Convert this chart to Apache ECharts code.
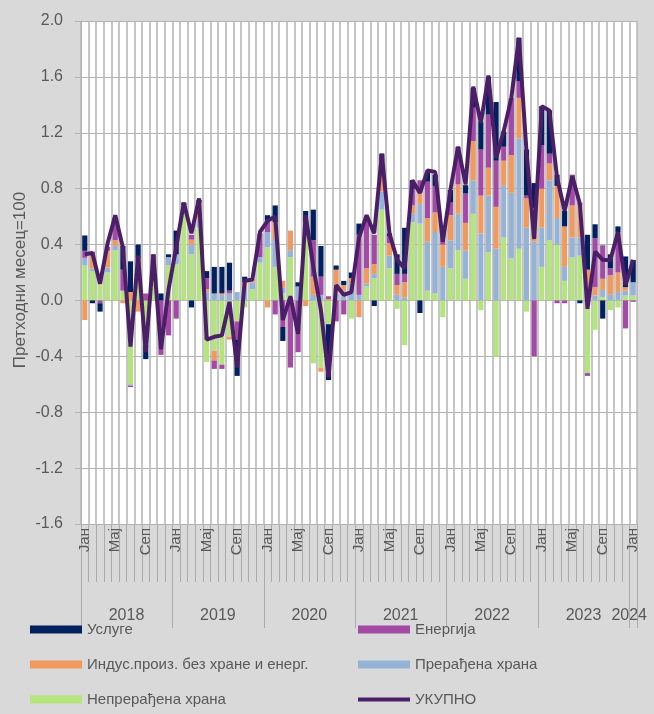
<!DOCTYPE html>
<html>
<head>
<meta charset="utf-8">
<script src="https://cdn.jsdelivr.net/npm/echarts@6/dist/echarts.min.js"></script>
<style>
  html, body { margin: 0; padding: 0; background: #d9d9d9; }
  #container { width: 654px; height: 714px; }
</style>
</head>
<body>
<div id="container"></div>
<script>
var years = ['2018', '2019', '2020', '2021', '2022', '2023', '2024'];
var monthNames = ['Јан', 'Феб', 'Мар', 'Апр', 'Мај', 'Јун', 'Јул', 'Авг', 'Сеп', 'Окт', 'Нов', 'Дец'];
var shownMonths = ['Јан', 'Мај', 'Сеп'];

// Непрерађена храна
var unprocessedFood = [
  0.25, 0.21, 0.15, 0.20, 0.36, 0.07, -0.60, 0.22, -0.24, 0.15, 0.00, 0.25,
  0.26, 0.62, 0.33, 0.52, -0.44, -0.36, -0.46, -0.26, -0.15, -0.05, 0.08, 0.27,
  0.38, 0.24, 0.05, 0.31, 0.00, 0.45, -0.45, -0.48, -0.17, 0.00, 0.00, -0.13,
  0.00, 0.10, 0.16, 0.65, 0.23, -0.06, -0.32, 0.56, 0.55, 0.07, 0.05, -0.12,
  0.23, 0.36, 0.155, 0.62, -0.07, 0.345, -0.40, 0.45, 0.30, 0.37, -0.08, 0.00,
  0.24, 0.43, 0.40, 0.14, 0.31, 0.32, -0.52, -0.21, 0.025, -0.07, -0.05, 0.035,
  0.035
];
// Прерађена храна
var processedFood = [
  0.055, 0.02, 0.02, 0.035, 0.03, 0.00, -0.01, 0.03, -0.08, 0.03, 0.00, 0.06,
  0.07, 0.04, 0.07, 0.05, 0.06, 0.05, 0.04, 0.05, 0.06, 0.10, 0.05, 0.04,
  0.11, 0.20, 0.04, 0.05, 0.10, 0.06, 0.04, 0.04, 0.00, 0.05, 0.07, 0.12,
  0.04, 0.02, 0.03, 0.13, 0.09, 0.04, 0.02, 0.06, 0.14, 0.35, 0.44, 0.24,
  0.20, 0.26, 0.20, 0.24, 0.48, 0.405, 0.37, 0.37, 0.47, 0.79, 0.52, 0.42,
  0.28, 0.43, 0.19, 0.10, 0.14, 0.13, 0.04, 0.035, 0.05, 0.04, 0.06, 0.035,
  0.095
];
// Индус.произ. без хране и енерг.
var industrial = [
  -0.14, 0.11, 0.02, 0.12, 0.04, -0.02, 0.06, -0.08, 0.00, 0.05, 0.00, 0.00,
  0.00, 0.02, 0.035, 0.13, 0.02, -0.07, 0.01, -0.02, 0.00, 0.03, 0.02, 0.00,
  -0.05, 0.12, 0.05, 0.14, 0.00, -0.04, 0.13, -0.03, 0.01, 0.17, 0.04, 0.04,
  -0.12, 0.11, 0.07, 0.12, 0.09, 0.07, 0.11, 0.06, 0.08, 0.17, 0.14, 0.16,
  0.18, 0.21, 0.20, 0.28, 0.27, 0.20, 0.30, 0.18, 0.27, 0.29, 0.21, 0.24,
  0.28, 0.12, 0.23, 0.29, 0.23, 0.23, 0.18, 0.06, 0.08, 0.14, 0.14, 0.025,
  0.00
];
// Енергија
var energy = [
  0.05, 0.01, -0.02, 0.03, 0.14, 0.15, -0.01, 0.05, 0.05, 0.10, -0.39, -0.25,
  -0.13, 0.00, 0.035, 0.00, 0.08, -0.06, -0.03, 0.02, -0.13, 0.00, 0.00, 0.17,
  0.08, -0.10, -0.19, -0.48, -0.37, 0.05, 0.26, 0.13, 0.02, -0.15, -0.10, 0.00,
  0.43, 0.37, 0.21, 0.10, 0.05, 0.08, 0.06, 0.12, 0.09, 0.26, 0.19, 0.10,
  0.09, 0.27, 0.21, 0.24, 0.33, 0.38, 0.33, 0.10, 0.41, 0.12, 0.02, -0.40,
  0.31, 0.07, -0.02, -0.02, 0.22, 0.02, -0.02, 0.35, 0.24, 0.05, 0.29, -0.20,
  -0.01
];
// Услуге
var services = [
  0.11, -0.02, -0.06, 0.00, 0.02, 0.17, 0.22, 0.10, -0.10, 0.00, 0.05, 0.02,
  0.17, 0.02, -0.05, 0.02, 0.05, 0.19, 0.19, 0.20, -0.26, 0.04, 0.00, 0.00,
  0.04, 0.12, -0.10, 0.00, 0.03, 0.08, 0.22, 0.22, -0.40, 0.03, 0.03, 0.04,
  0.08, 0.00, -0.04, 0.05, 0.02, 0.14, 0.33, 0.06, -0.09, 0.07, 0.08, 0.02,
  0.09, 0.00, 0.06, 0.14, 0.20, 0.27, 0.42, 0.11, 0.00, 0.31, 0.33, 0.18,
  0.28, 0.31, 0.08, 0.11, 0.00, -0.02, 0.25, 0.10, -0.13, 0.10, 0.04, 0.22,
  0.16
];
// УКУПНО
var total = [
  0.33, 0.34, 0.12, 0.41, 0.61, 0.38, -0.33, 0.32, -0.37, 0.33, -0.35, 0.08,
  0.38, 0.70, 0.48, 0.73, -0.28, -0.26, -0.25, -0.01, -0.48, 0.14, 0.15, 0.49,
  0.57, 0.60, -0.14, 0.03, -0.24, 0.61, 0.24, -0.07, -0.55, 0.11, 0.04, 0.06,
  0.45, 0.61, 0.48, 1.05, 0.48, 0.29, 0.23, 0.86, 0.77, 0.93, 0.92, 0.42,
  0.79, 1.10, 0.83, 1.53, 1.27, 1.61, 1.02, 1.21, 1.45, 1.88, 1.06, 0.44,
  1.39, 1.36, 0.88, 0.64, 0.89, 0.69, -0.06, 0.35, 0.29, 0.29, 0.49, 0.11,
  0.29
];

var categories = [];
years.forEach(function (y) {
  monthNames.forEach(function (m) {
    if (categories.length < total.length) categories.push(m + ' ' + y);
  });
});

var font = 'Liberation Sans';
var textColor = '#595959';
var gridColor = '#b3b3b3';
var tickColor = '#ababab';

var dom = document.getElementById('container');
var myChart = echarts.init(dom, null, { renderer: 'canvas' });

function bar(name, data, color) {
  return {
    name: name,
    type: 'bar',
    stack: 'total',
    data: data,
    barWidth: '68%',
    itemStyle: { color: color },
    emphasis: { disabled: true }
  };
}

// helper axes that only draw the month / year separator lines under the plot
function tickAxis(gridIndex, interval) {
  return {
    type: 'category',
    gridIndex: gridIndex,
    data: categories,
    boundaryGap: true,
    axisLine: { show: false },
    axisTick: { show: false },
    axisLabel: { show: false },
    splitLine: { show: true, interval: interval, lineStyle: { color: tickColor, width: 1 } }
  };
}

var legendBase = {
  top: 622, orient: 'vertical', itemGap: 20, padding: 0,
  itemWidth: 52, itemHeight: 8,
  textStyle: { fontSize: 15, color: textColor, fontFamily: font }
};

var option = {
  backgroundColor: '#d9d9d9',
  animation: false,
  textStyle: { fontFamily: font },
  grid: [
    { left: 81, right: 17, top: 21, bottom: 190, show: true, backgroundColor: '#ffffff', borderWidth: 0 },
    { left: 81, right: 17, top: 524, height: 58 },
    { left: 81, right: 17, top: 524, height: 104 }
  ],
  legend: [
    Object.assign({}, legendBase, {
      left: 30,
      data: [
        { name: 'Услуге', icon: 'rect' },
        { name: 'Индус.произ. без хране и енерг.', icon: 'rect' },
        { name: 'Непрерађена храна', icon: 'rect' }
      ]
    }),
    Object.assign({}, legendBase, {
      left: 356,
      data: [
        { name: 'Енергија', icon: 'rect' },
        { name: 'Прерађена храна', icon: 'rect' },
        { name: 'УКУПНО', itemStyle: { opacity: 0 }, lineStyle: { width: 4, color: '#4b1f68' } }
      ]
    })
  ],
  xAxis: [
    {
      type: 'category',
      data: categories,
      boundaryGap: true,
      axisLine: { onZero: false, lineStyle: { color: gridColor } },
      axisTick: { show: false },
      axisLabel: {
        interval: 0, rotate: 90, margin: 4, fontSize: 15, color: textColor,
        formatter: function (v) {
          var m = v.split(' ')[0];
          return shownMonths.indexOf(m) >= 0 ? m : '';
        }
      },
      splitLine: { show: true, interval: 0, lineStyle: { color: gridColor, width: 1.5 } }
    },
    {
      type: 'category',
      data: categories,
      position: 'bottom',
      boundaryGap: true,
      axisLine: { show: false },
      axisTick: { show: false },
      axisLabel: {
        margin: 84, fontSize: 16, color: textColor,
        padding: [0, 8, 0, 0],
        interval: function (i) { return i % 12 === 6 || i === 72; },
        formatter: function (v) { return v.split(' ')[1]; }
      },
      splitLine: { show: false }
    },
    tickAxis(1, 0),
    tickAxis(2, function (i) { return i % 12 === 0; })
  ],
  yAxis: [
    {
      type: 'value',
      min: -1.6,
      max: 2.0,
      interval: 0.4,
      name: 'Претходни месец=100',
      nameLocation: 'middle',
      nameGap: 52,
      nameMoveOverlap: false,
      nameTextStyle: { fontSize: 17, color: textColor, padding: [0, 15, 0, 0] },
      axisLine: { show: true, lineStyle: { color: gridColor } },
      axisTick: { show: true, length: 6, lineStyle: { color: gridColor } },
      axisLabel: {
        margin: 18, fontSize: 16, color: textColor,
        formatter: function (v) { return v.toFixed(1); }
      },
      splitLine: { lineStyle: { color: gridColor, width: 1 } }
    },
    { type: 'value', gridIndex: 1, show: false },
    { type: 'value', gridIndex: 2, show: false }
  ],
  series: [
    bar('Непрерађена храна', unprocessedFood, '#b4e47c'),
    bar('Прерађена храна', processedFood, '#95b3d7'),
    bar('Индус.произ. без хране и енерг.', industrial, '#f09a60'),
    bar('Енергија', energy, '#a34aa6'),
    bar('Услуге', services, '#002060'),
    {
      name: 'УКУПНО',
      type: 'line',
      data: total,
      symbol: 'none',
      z: 5,
      lineStyle: { color: '#4b1f68', width: 4 },
      itemStyle: { color: '#4b1f68' }
    }
  ]
};

myChart.setOption(option);
window.addEventListener('resize', myChart.resize);
</script>
</body>
</html>
